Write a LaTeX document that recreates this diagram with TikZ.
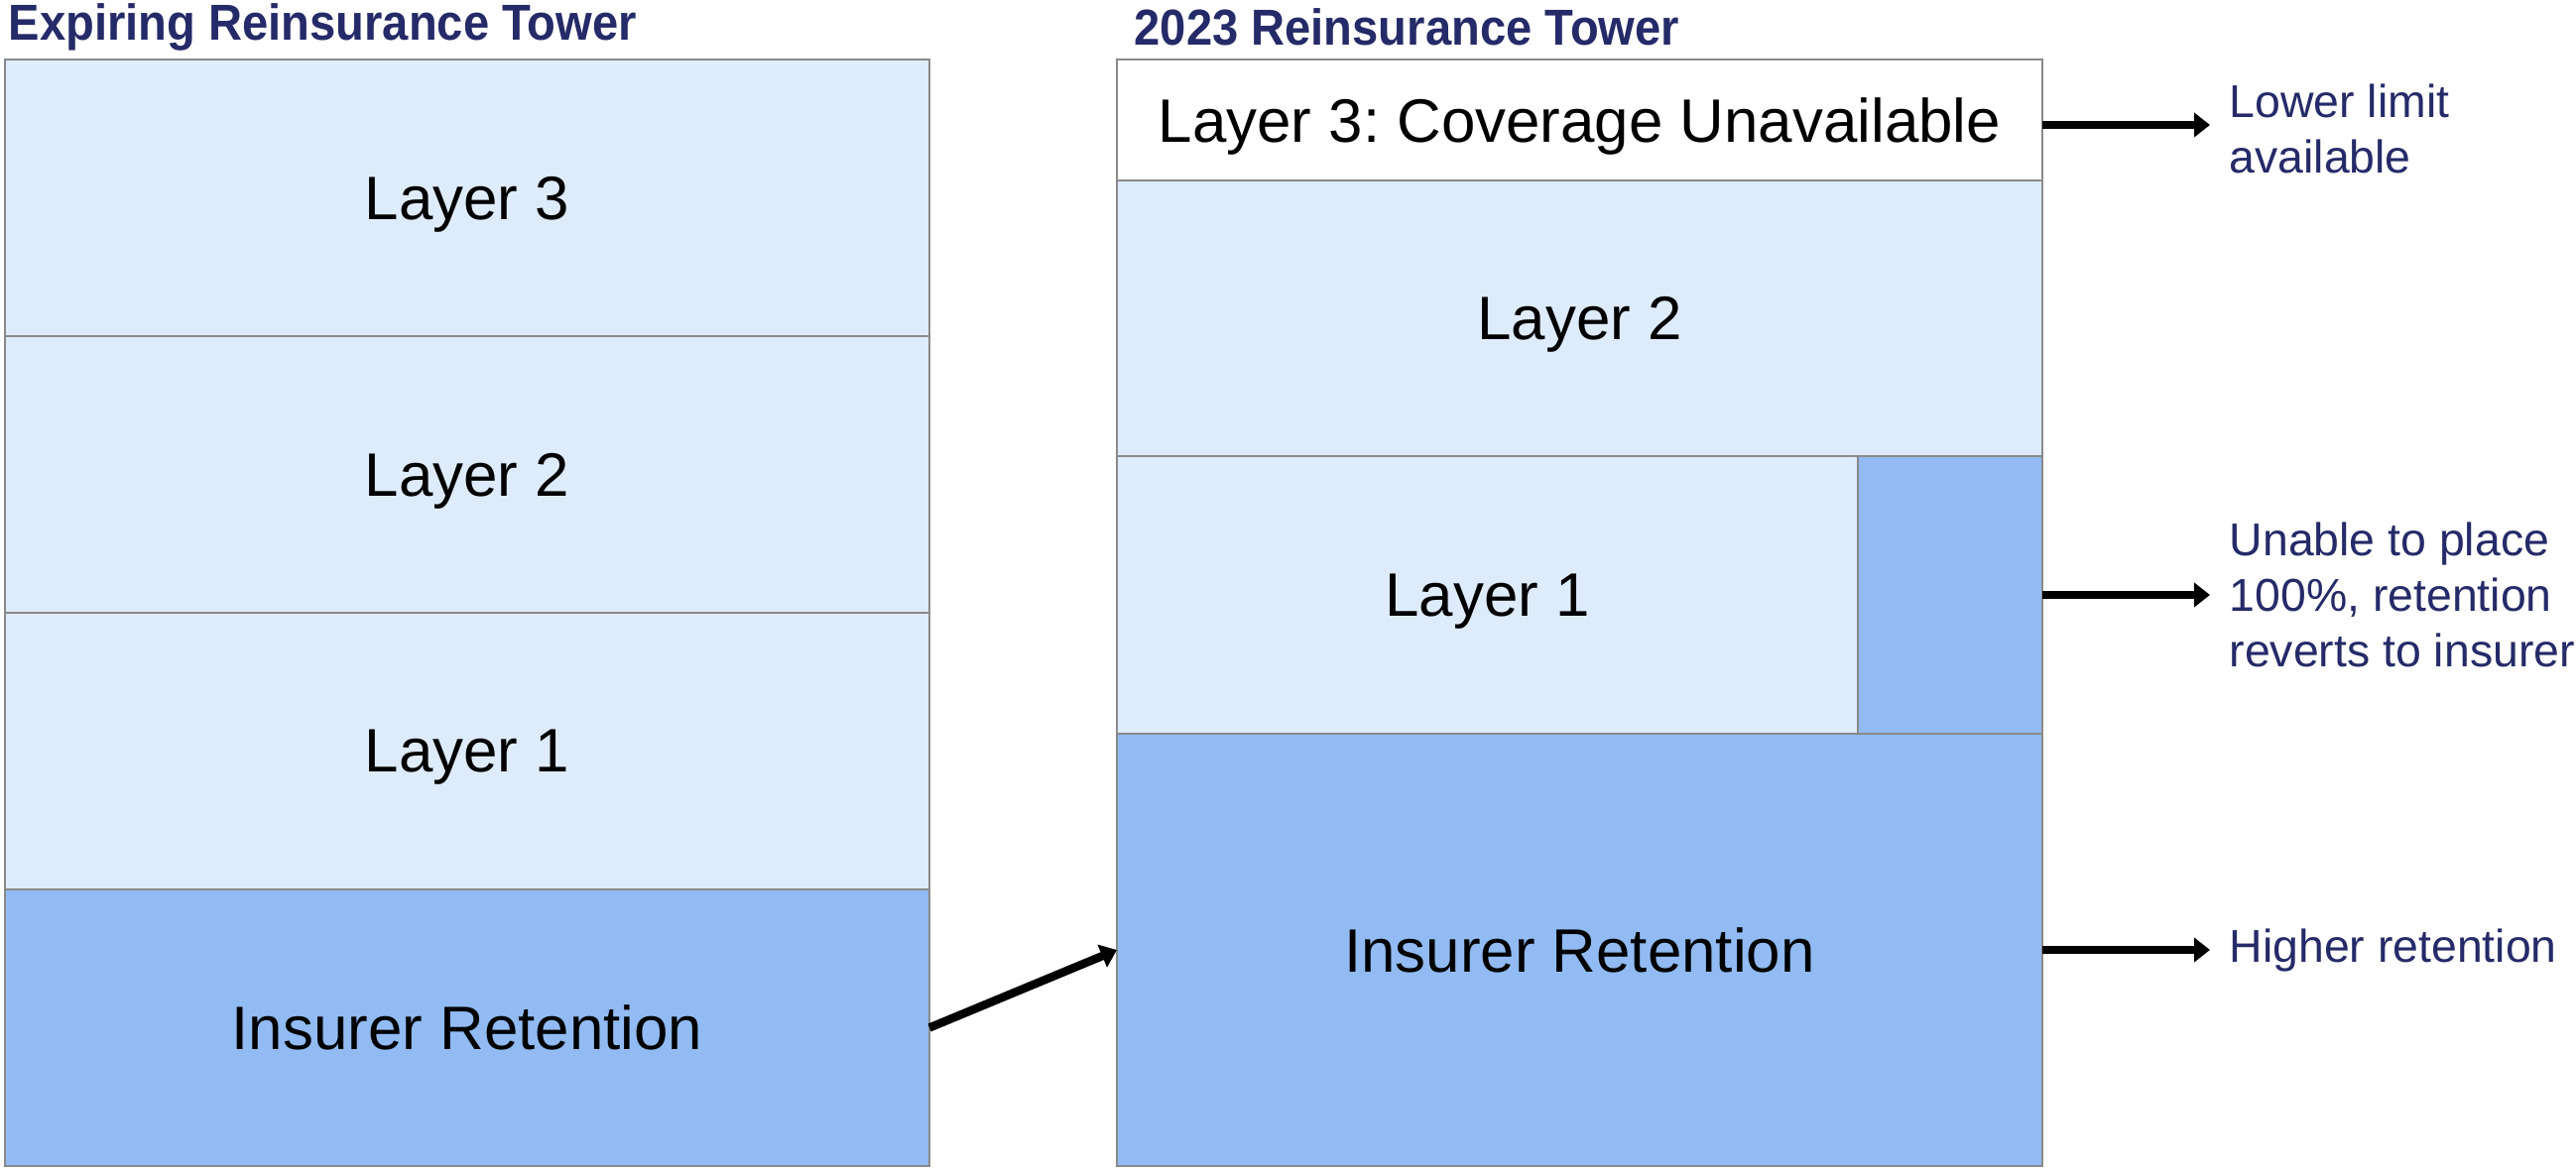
\documentclass[tikz,border=0pt]{standalone}
\usepackage{fontspec}
\setmainfont{Liberation Sans}
\usetikzlibrary{shapes, arrows.meta, positioning}
\definecolor{navy}{HTML}{252A68}
\definecolor{paleblue}{HTML}{DEEBFB}
\definecolor{midblue}{HTML}{91BBF2}
\definecolor{edgegray}{HTML}{8A8A8A}
\tikzstyle{layer} = [draw=edgegray, line width=0.5pt, fill=paleblue, rectangle, outer sep=0pt, inner sep=0pt, text depth=0pt, font=\fontsize{17.6}{21}\selectfont]
\tikzstyle{retain} = [layer, fill=midblue]
\tikzstyle{heading} = [text=navy, anchor=west, inner sep=0pt, font=\bfseries\fontsize{14.5}{17}\selectfont]
\tikzstyle{note} = [text=navy, align=left, inner sep=0pt, font=\fontsize{13.2}{15.9}\selectfont]
\tikzstyle{pointer} = [line width=2.4pt, -{Triangle[length=0.16cm, width=0.24cm]}]
\newcommand{\narrow}[1]{\scalebox{0.925}[1]{#1}}

\begin{document}
\frenchspacing
\begin{tikzpicture}
    \useasboundingbox (0,0) rectangle (25.97,-11.80);

    % expiring tower
    \node[heading] (oldtitle) at (0.08,-0.27) {\narrow{Expiring Reinsurance Tower}};
    \node[layer, anchor=north west, minimum width=9.32cm, minimum height=2.79cm] (old3) at (0.05,-0.60) {Layer 3};
    \node[layer, below=0pt of old3, minimum width=9.32cm, minimum height=2.79cm] (old2) {Layer 2};
    \node[layer, below=0pt of old2, minimum width=9.32cm, minimum height=2.79cm] (old1) {Layer 1};
    \node[retain, below=0pt of old1, minimum width=9.32cm, minimum height=2.79cm] (oldret) {Insurer Retention};

    % 2023 tower
    \node[heading] (newtitle) at (11.43,-0.27) {\narrow{2023 Reinsurance Tower}};
    \node[layer, fill=white, anchor=north west, minimum width=9.33cm, minimum height=1.22cm] (top3) at (11.26,-0.60) {Layer 3: Coverage Unavailable};
    \node[layer, below=0pt of top3, minimum width=9.33cm, minimum height=2.78cm] (new2) {Layer 2};
    \node[layer, below=0pt of new2.south west, anchor=north west, minimum width=7.47cm, minimum height=2.80cm] (new1) {Layer 1};
    \node[retain, right=0pt of new1, minimum width=1.86cm, minimum height=2.80cm] (gap) {};
    \node[retain, below=0pt of new1.south west, anchor=north west, minimum width=9.33cm, minimum height=4.36cm] (newret) {Insurer Retention};

    % notes on the right
    \node[note, right=1.88cm of top3, anchor=west, yshift=-0.09cm] (lower) {Lower limit\\available};
    \node[note, right=1.88cm of gap, anchor=west] (unable) {Unable to place\\100\%, retention\\reverts to insurer};
    \node[note, right=1.88cm of newret, anchor=west] (higher) {Higher retention};

    \draw[pointer] (oldret.east) -- (newret.west);
    \draw[pointer, shorten >=0.19cm] ([yshift=-0.05cm]top3.east) -- ([yshift=-0.05cm]top3.east -| lower.west);
    \draw[pointer, shorten >=0.19cm] (gap.east) -- (unable.west);
    \draw[pointer, shorten >=0.19cm] (newret.east) -- (higher.west);
\end{tikzpicture}
\end{document}
